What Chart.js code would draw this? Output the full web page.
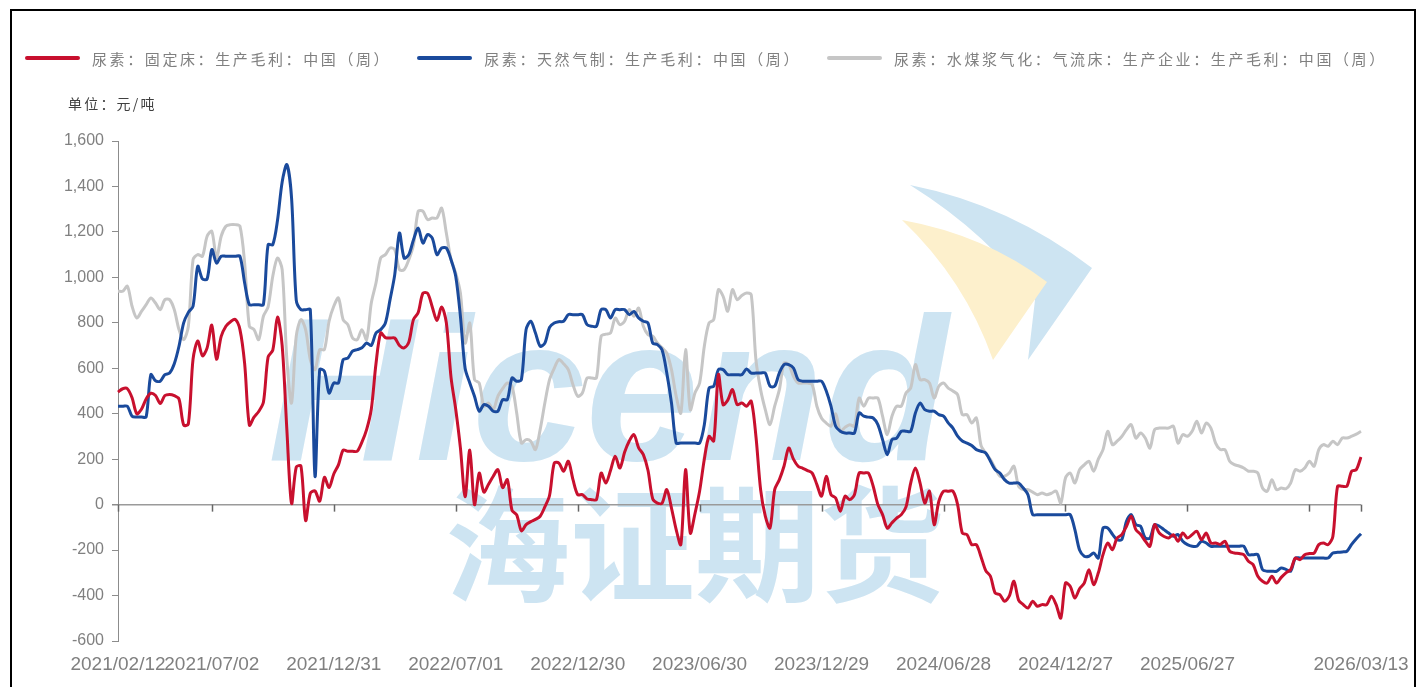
<!DOCTYPE html>
<html>
<head>
<meta charset="utf-8">
<script src="https://cdn.jsdelivr.net/npm/chart.js@4.4.1/dist/chart.umd.min.js"></script>
<style>
  body { margin: 0; background: #fff; }
  #frame { position: absolute; left: 10px; top: 9px; width: 1406px; height: 700px; border: 2px solid #000; box-sizing: border-box; overflow: hidden; }
  #legend { position: absolute; left: 13px; top: 37px; height: 20px; display: flex; align-items: center; white-space: nowrap;
            font-family: "Noto Sans CJK SC"; font-size: 15px; letter-spacing: 2.6px; color: #808080; }
  .item { display: flex; align-items: center; margin-right: 26px; }
  .swatch { width: 55px; height: 4px; border-radius: 2px; margin-right: 12px; }
  #unit { position: absolute; left: 56px; top: 82px; line-height: 20px; font-family: "Noto Sans CJK SC"; font-size: 14px; letter-spacing: 2.2px; color: #404040; }
  canvas { position: absolute; left: 0; top: 0; }
</style>
</head>
<body>
<div id="frame">
  <canvas id="chart" width="1402" height="676"></canvas>
  <div id="legend"></div>
  <div id="unit">单位：元/吨</div>
</div>
<script>
// weekly categories, 2021/02/12 .. 2026/03/13
var dates = [];
var start = Date.UTC(2021, 1, 12);
for (var i = 0; i < 266; i++) {
    var d = new Date(start + i * 7 * 86400000);
    dates.push(d.getUTCFullYear() + '/' + String(d.getUTCMonth() + 1).padStart(2, '0') + '/' + String(d.getUTCDate()).padStart(2, '0'));
}

// weeks that carry a tick (254 has a tick but no label)
var tickWeeks = [0, 20, 46, 72, 98, 124, 150, 176, 202, 228, 254, 265];
var unlabeledWeeks = [254];

var seriesNames = ['尿素：固定床：生产毛利：中国（周）', '尿素：天然气制：生产毛利：中国（周）', '尿素：水煤浆气化：气流床：生产企业：生产毛利：中国（周）'];
var seriesColors = ['#c8102e', '#1a4a9c', '#c6c6c6'];

var fixedBed = [
    495, 510, 510, 470, 400, 420, 465, 490, 480, 445,
    480, 485, 480, 465, 350, 355, 640, 720, 655, 690,
    790, 640, 740, 785, 805, 815, 770, 620, 350, 385,
    410, 450, 650, 680, 825, 700, 330, 5, 165, 170,
    -70, 50, 60, 15, 120, 75, 135, 175, 240, 235,
    235, 235, 275, 330, 420, 620, 755, 735, 733, 733,
    700, 690, 715, 815, 845, 930, 930, 870, 810, 870,
    800, 560, 420, 250, 35, 240, 0, 139, 55, 90,
    125, 154, 75, 110, -25, -45, -115, -88, -75, -65,
    -51, -10, 40, 183, 183, 147, 191, 110, 44, 44,
    25, 22, 22, 139, 95, 150, 213, 161, 230, 280,
    308, 250, 220, 150, 25, 7, 7, 66, -15, -110,
    -176, 154, -125, -40, 60, 200, 300, 280, 572, 440,
    460, 506, 440, 447, 433, 455, 301, 66, -51, -103,
    66, 110, 170, 249, 200, 169, 160, 150, 139, 88,
    37, 125, 44, 29, -29, 37, 22, 44, 139, 139,
    139, 81, 0, -44, -103, -80, -59, -44, -10, 95,
    161, 95, 7, 59, -88, 15, 59, 59, 59, 0,
    -125, -132, -176, -176, -230, -290, -315, -389, -396, -425,
    -403, -337, -420, -440, -455, -425, -447, -440, -440, -403,
    -440, -499, -345, -359, -411, -370, -345, -286, -352, -300,
    -220, -169, -198, -147, -132, -95, -51, -110, -130, -160,
    -183, -88, -125, -140, -147, -132, -161, -125, -147, -132,
    -117, -154, -125, -169, -169, -175, -161, -205, -213, -215,
    -220, -249, -264, -315, -337, -345, -315, -345, -320, -300,
    -286, -235, -242, -220, -215, -213, -176, -169, -176, -140,
    81, 81, 81, 147, 154, 210
];

var naturalGas = [
    433, 433, 433, 389, 386, 386, 386, 572, 545, 543,
    572, 579, 620, 697, 800, 846, 873, 1049, 993, 993,
    1122, 1063, 1093, 1093, 1093, 1093, 1093, 975, 880, 880,
    880, 880, 1144, 1144, 1250, 1420, 1496, 1350, 900, 858,
    858, 858, 125, 594, 587, 491, 535, 535, 638, 645,
    675, 682, 690, 711, 700, 755, 770, 799, 902, 1012,
    1195, 1085, 1100, 1166, 1217, 1151, 1188, 1173, 1100, 1129,
    1129, 1078, 1005, 829, 600, 535, 477, 411, 440, 433,
    411, 411, 462, 462, 557, 543, 550, 770, 807, 755,
    697, 711, 780, 799, 805, 807, 836, 836, 836, 836,
    792, 785, 785, 858, 858, 821, 858, 858, 858, 836,
    850, 821, 807, 799, 711, 704, 680, 579, 447, 271,
    271, 271, 271, 271, 271, 352, 513, 521, 594, 594,
    572, 572, 572, 572, 597, 579, 579, 579, 579, 521,
    521, 580, 616, 616, 601, 550, 543, 543, 543, 543,
    543, 500, 433, 345, 323, 315, 315, 315, 403, 389,
    385, 381, 352, 286, 220, 286, 293, 323, 323, 323,
    403, 447, 418, 411, 411, 396, 389, 360, 337, 301,
    280, 271, 260, 242, 235, 227, 191, 154, 139, 110,
    95, 95, 95, 73, 44, -44, -44, -44, -44, -44,
    -44, -44, -44, -44, -110, -200, -227, -227, -213, -235,
    -103, -103, -130, -154, -154, -73, -44, -88, -95, -147,
    -147, -88, -95, -110, -125, -139, -132, -161, -176, -183,
    -183, -161, -169, -183, -183, -183, -183, -183, -183, -183,
    -183, -220, -220, -220, -286, -293, -293, -293, -279, -285,
    -293, -235, -235, -235, -235, -235, -235, -235, -235, -213,
    -210, -208, -205, -175, -150, -128
];

var coalWater = [
    939, 939, 961, 873, 821, 850, 880, 909, 887, 858,
    902, 902, 858, 770, 726, 785, 1078, 1100, 1093, 1181,
    1203, 1085, 1181, 1225, 1232, 1232, 1225, 1063, 785, 770,
    726, 829, 870, 1005, 1085, 1034, 638, 447, 741, 814,
    770, 638, 594, 682, 682, 807, 873, 909, 814, 792,
    733, 726, 770, 726, 887, 975, 1085, 1100, 1129, 1122,
    1034, 1034, 1078, 1144, 1291, 1291, 1254, 1261, 1261, 1305,
    1195, 1078, 1019, 931, 711, 799, 550, 535, 433, 447,
    418, 477, 510, 535, 521, 403, 271, 286, 279, 242,
    330, 447, 550, 600, 638, 620, 594, 528, 477, 491,
    557, 557, 557, 741, 750, 755, 821, 792, 807, 858,
    829, 865, 785, 748, 741, 711, 690, 667, 594, 477,
    403, 682, 418, 491, 535, 697, 799, 814, 946, 917,
    851, 946, 902, 920, 931, 924, 638, 506, 418, 352,
    433, 506, 623, 616, 565, 535, 535, 535, 528, 433,
    380, 359, 345, 400, 323, 340, 352, 345, 469, 433,
    469, 469, 469, 389, 308, 389, 433, 433, 491, 513,
    616, 550, 550, 535, 469, 521, 535, 513, 500, 484,
    396, 396, 359, 381, 260, 227, 198, 160, 125, 125,
    139, 169, 81, 66, 66, 55, 44, 51, 44, 50,
    60, 7, 117, 139, 95, 154, 175, 191, 147, 200,
    242, 323, 264, 279, 300, 330, 352, 293, 315, 293,
    249, 330, 337, 337, 337, 345, 271, 308, 301, 323,
    367, 315, 359, 337, 271, 242, 242, 191, 176, 170,
    161, 147, 147, 139, 73, 59, 110, 66, 73, 70,
    95, 154, 147, 161, 191, 169, 242, 264, 257, 279,
    264, 293, 293, 301, 310, 323
];

// html legend
var legend = document.getElementById('legend');
seriesNames.forEach(function(name, i) {
    var item = document.createElement('div');
    item.className = 'item';
    item.innerHTML = '<span class="swatch" style="background:' + seriesColors[i] + '"></span><span>' + name + '</span>';
    legend.appendChild(item);
});

function fitText(c, text, style, family, width, x, y, baseline) {
    c.font = style + ' 200px ' + family;
    var size = 200 * width / c.measureText(text).width;
    c.font = style + ' ' + size + 'px ' + family;
    c.textBaseline = baseline;
    c.textAlign = 'left';
    c.fillText(text, x, y);
}

// faint company watermark behind the plot
var watermark = {
    id: 'watermark',
    beforeDraw: function(chart) {
        var c = chart.ctx;
        c.save();
        c.fillStyle = '#cde4f2';
        c.beginPath();
        c.moveTo(898, 174);
        c.quadraticCurveTo(998, 194, 1080, 257);
        c.lineTo(1016, 349);
        c.lineTo(1023, 289);
        c.quadraticCurveTo(978, 224, 898, 174);
        c.fill();
        c.fillStyle = '#fdf0cc';
        c.beginPath();
        c.moveTo(890, 209);
        c.quadraticCurveTo(973, 224, 1035, 271);
        c.lineTo(981, 349);
        c.quadraticCurveTo(953, 269, 890, 209);
        c.fill();
        c.fillStyle = '#cde4f2';
        fitText(c, 'Hicend', 'italic bold', '"Liberation Sans"', 680, 256, 449, 'alphabetic');
        fitText(c, '海证期货', 'bold', '"Noto Sans CJK SC"', 500, 433, 534, 'middle');
        c.restore();
    }
};

// x tick marks hang from the zero line
var zeroTicks = {
    id: 'zeroTicks',
    afterDraw: function(chart) {
        var x = chart.scales.x;
        var y0 = chart.scales.y.getPixelForValue(0);
        var c = chart.ctx;
        c.save();
        c.strokeStyle = '#666';
        c.lineWidth = 1.5;
        x.ticks.forEach(function(t) {
            var px = Math.round(x.getPixelForValue(t.value)) + 0.5;
            c.beginPath();
            c.moveTo(px, y0);
            c.lineTo(px, y0 + 7);
            c.stroke();
        });
        c.restore();
    }
};

var narrow = "'Liberation Sans Narrow', 'Liberation Sans', sans-serif";

new Chart(document.getElementById('chart'), {
    type: 'line',
    data: {
        labels: dates,
        datasets: [
            { label: seriesNames[0], data: fixedBed, borderColor: seriesColors[0], backgroundColor: seriesColors[0] },
            { label: seriesNames[1], data: naturalGas, borderColor: seriesColors[1], backgroundColor: seriesColors[1] },
            { label: seriesNames[2], data: coalWater, borderColor: seriesColors[2], backgroundColor: seriesColors[2] }
        ]
    },
    options: {
        responsive: false,
        animation: false,
        layout: { padding: { top: 130, right: 53, left: 0, bottom: 0 } },
        elements: {
            point: { radius: 0 },
            line: { borderWidth: 3, tension: 0.3 }
        },
        plugins: {
            legend: { display: false },
            tooltip: { enabled: false }
        },
        scales: {
            x: {
                afterBuildTicks: function(s) {
                    s.ticks = tickWeeks.map(function(w) { return { value: w }; });
                },
                afterFit: function(s) {
                    s.height = 46;
                    s.paddingLeft = 0;
                    s.paddingRight = 0;
                },
                border: { display: false },
                grid: { display: false, drawTicks: false },
                ticks: {
                    autoSkip: false,
                    maxRotation: 0,
                    minRotation: 0,
                    padding: 12,
                    color: '#808080',
                    font: { size: 19, family: narrow },
                    callback: function(v) {
                        return unlabeledWeeks.indexOf(v) >= 0 ? '' : dates[v];
                    }
                }
            },
            y: {
                min: -600,
                max: 1600,
                afterFit: function(s) { s.width = 106; },
                border: { display: true, color: '#8c8c8c' },
                grid: {
                    color: function(ctx) { return ctx.tick && ctx.tick.value === 0 ? '#9a9a9a' : 'rgba(0,0,0,0)'; },
                    lineWidth: function(ctx) { return ctx.tick && ctx.tick.value === 0 ? 1.5 : 1; },
                    tickColor: '#8c8c8c',
                    tickLength: 6
                },
                ticks: {
                    stepSize: 200,
                    padding: 8,
                    color: '#808080',
                    font: { size: 16, family: narrow },
                    callback: function(v) { return v.toLocaleString('en-US'); }
                }
            }
        }
    },
    plugins: [watermark, zeroTicks]
});
</script>
</body>
</html>
